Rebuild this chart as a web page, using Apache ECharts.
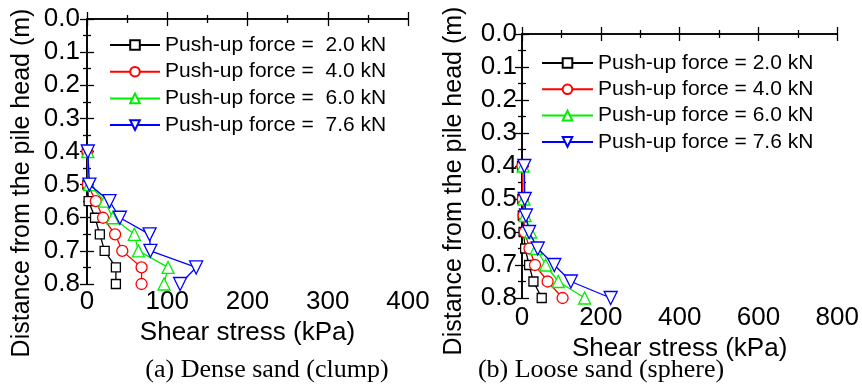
<!DOCTYPE html>
<html>
<head>
<meta charset="utf-8">
<script src="https://cdn.jsdelivr.net/npm/echarts@6/dist/echarts.min.js"></script>
<style>
html,body{margin:0;padding:0;background:#fff;}
#c{width:862px;height:388px;}
</style>
</head>
<body>
<div id="c"></div>
<script>
// Depths (m) shared by both plots
const depths = [0.4, 0.5, 0.55, 0.6, 0.65, 0.7, 0.75, 0.8];

// (a) Dense sand (clump) - shear stress (kPa)
const denseNames = ['Push-up force =  2.0 kN', 'Push-up force =  4.0 kN', 'Push-up force =  6.0 kN', 'Push-up force =  7.6 kN'];
const dense20 = [0, 0.5, 2, 10, 16, 22, 36, 36];
const dense40 = [0.5, 1, 11, 20, 35, 44, 68, 68];
const dense60 = [1, 3, 22, 32, 59, 64, 101, 96];
const dense76 = [1, 3, 28, 41, 78, 79, 136, 116];

// (b) Loose sand (sphere) - shear stress (kPa)
const looseNames = ['Push-up force = 2.0 kN', 'Push-up force = 4.0 kN', 'Push-up force = 6.0 kN', 'Push-up force = 7.6 kN'];
const loose20 = [0, 1, 2, 4, 8, 18, 29, 50];
const loose40 = [1, 2, 4, 7, 19, 33, 65, 103];
const loose60 = [3, 5, 8, 22, 36, 60, 92, 159];
const loose76 = [6, 7, 10, 18, 40, 82, 124, 225];

const yTitle = 'Distance from the pile head (m)';
const xTitle = 'Shear stress (kPa)';
const captionA = '(a) Dense sand (clump)';
const captionB = '(b) Loose sand (sphere)';

const colors = ['#000000', '#ff0000', '#00ee00', '#0000ff'];
const symbols = ['rect', 'circle', 'triangle', 'path://M0,0L10,0L5,9Z'];
const sizes = [9, 11, 12, 13];

const font = '"Liberation Sans", Arial, sans-serif';
const serif = '"Liberation Serif", "Times New Roman", serif';

function mk(name, xs, idx, gi) {
  return {
    type: 'line', name: name,
    xAxisIndex: gi * 2, yAxisIndex: gi * 2,
    data: xs.map((v, i) => [v, depths[i]]),
    symbol: symbols[idx], symbolSize: sizes[idx],
    lineStyle: {color: colors[idx], width: 1.3},
    itemStyle: {color: '#fff', borderColor: colors[idx], borderWidth: 1.3},
    emphasis: {disabled: true},
    z: 2 + idx
  };
}

const axLine = {show: true, lineStyle: {color: '#000', width: 1.6}};
function xAxes(gi, max, interval) {
  const base = {
    type: 'value', gridIndex: gi, min: 0, max: max, interval: interval,
    axisLine: axLine, splitLine: {show: false},
    axisTick: {inside: true, length: 7, lineStyle: {color: '#000', width: 1.3}},
    minorTick: {show: true, splitNumber: 2, length: 4, lineStyle: {color: '#000', width: 1.3}},
  };
  return [
    Object.assign({}, base, {position: 'bottom',
      axisLabel: {color: '#000', fontSize: 26, fontFamily: font, margin: gi === 0 ? 5 : 7},
      name: xTitle, nameLocation: 'middle', nameGap: gi === 0 ? 21 : 30,
      nameTextStyle: {color: '#000', fontSize: 26, fontFamily: font}}),
    Object.assign({}, base, {position: 'top', axisLabel: {show: false}})
  ];
}
function yAxes(gi) {
  const base = {
    type: 'value', gridIndex: gi, min: 0, max: 0.8, interval: 0.1, inverse: true,
    axisLine: axLine, splitLine: {show: false},
    axisTick: {inside: true, length: 7, lineStyle: {color: '#000', width: 1.3}},
    minorTick: {show: true, splitNumber: 2, length: 4, lineStyle: {color: '#000', width: 1.3}},
  };
  return [
    Object.assign({}, base, {position: 'left',
      axisLabel: {color: '#000', fontSize: 26, fontFamily: font, margin: gi === 0 ? 7 : 5,
        formatter: v => v.toFixed(1)}}),
    Object.assign({}, base, {position: 'right', axisLabel: {show: false}})
  ];
}

const legendText = {color: '#000', fontSize: 21, fontFamily: font, lineHeight: 22};

const chart = echarts.init(document.getElementById('c'), null, {renderer: 'canvas'});
chart.setOption({
  animation: false,
  backgroundColor: '#fff',
  grid: [
    {left: 87, top: 19, width: 321, height: 265},
    {left: 522, top: 34, width: 317, height: 264}
  ],
  xAxis: [...xAxes(0, 400, 100), ...xAxes(1, 800, 200)],
  yAxis: [...yAxes(0), ...yAxes(1)],
  legend: [
    {data: denseNames, orient: 'vertical', left: 109, top: 34, padding: 0, itemWidth: 50, itemHeight: 12,
     itemGap: 4.7, textStyle: legendText},
    {data: looseNames, orient: 'vertical', left: 541, top: 52, padding: 0, itemWidth: 51, itemHeight: 12,
     itemGap: 4.3, textStyle: legendText}
  ],
  graphic: [
    {type: 'text', x: 22, y: 183, rotation: Math.PI / 2,
     style: {text: yTitle, fill: '#000', font: '25px ' + font, align: 'center', verticalAlign: 'middle'}},
    {type: 'text', x: 454, y: 181, rotation: Math.PI / 2,
     style: {text: yTitle, fill: '#000', font: '25px ' + font, align: 'center', verticalAlign: 'middle'}},
    {type: 'text', x: 267, y: 370,
     style: {text: captionA, fill: '#000', font: '26px ' + serif, align: 'center', verticalAlign: 'middle'}},
    {type: 'text', x: 601, y: 370,
     style: {text: captionB, fill: '#000', font: '26px ' + serif, align: 'center', verticalAlign: 'middle'}}
  ],
  series: [
    mk(denseNames[0], dense20, 0, 0), mk(denseNames[1], dense40, 1, 0),
    mk(denseNames[2], dense60, 2, 0), mk(denseNames[3], dense76, 3, 0),
    mk(looseNames[0], loose20, 0, 1), mk(looseNames[1], loose40, 1, 1),
    mk(looseNames[2], loose60, 2, 1), mk(looseNames[3], loose76, 3, 1)
  ]
});
</script>
</body>
</html>
